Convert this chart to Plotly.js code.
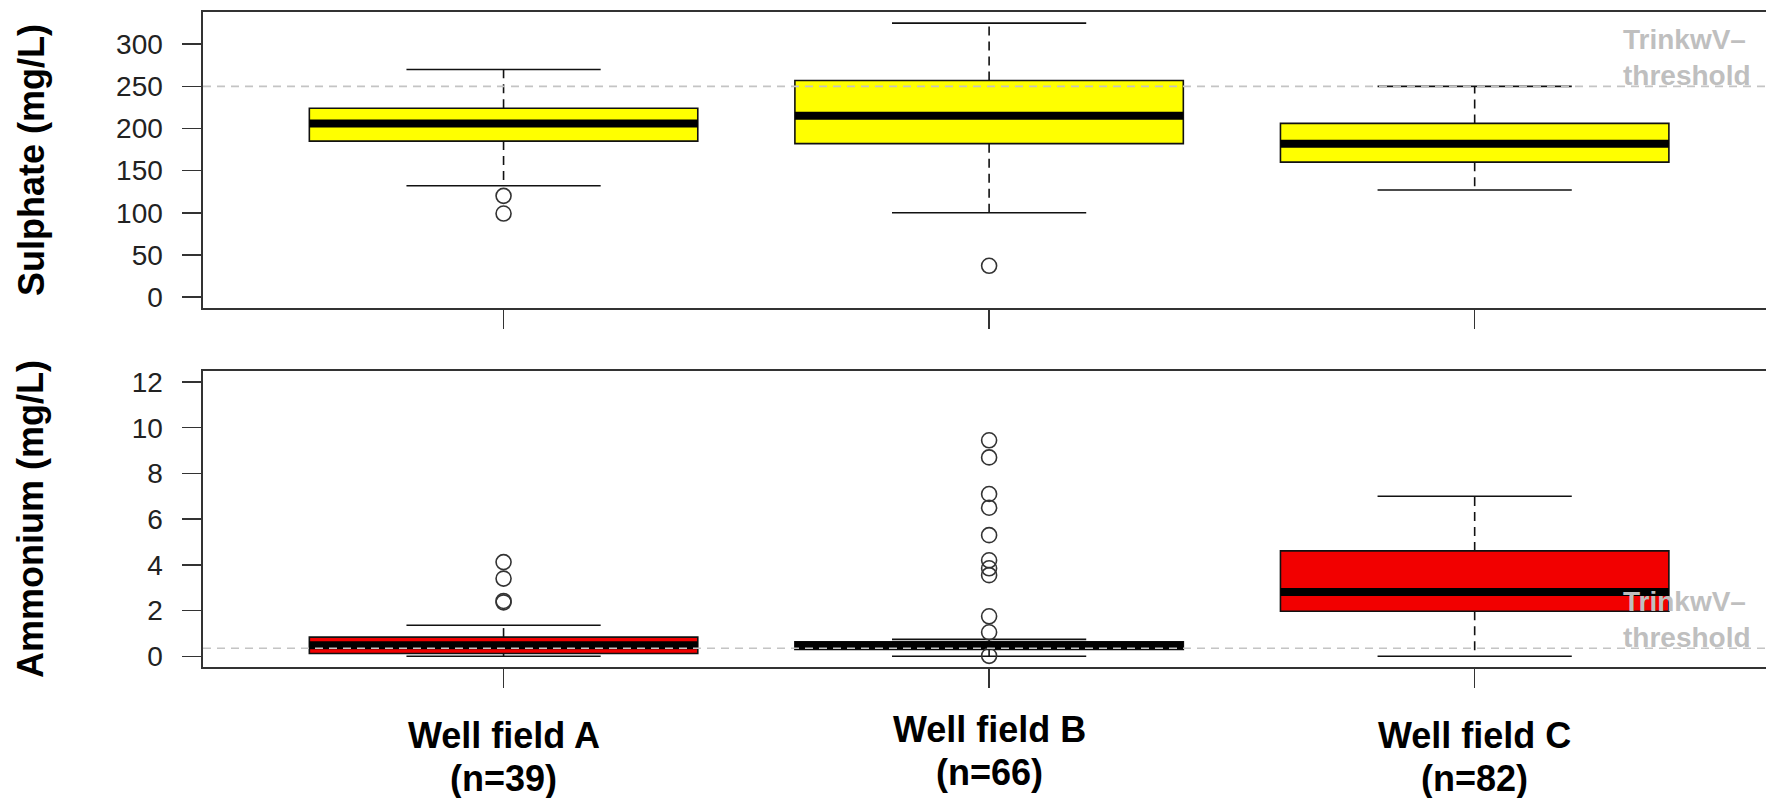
<!DOCTYPE html>
<html>
<head>
<meta charset="utf-8">
<script src="https://cdn.plot.ly/plotly-3.0.1.min.js"></script>
<style>
  html, body { margin: 0; padding: 0; background: #fff; }
  #chart { width: 1766px; height: 798px; }
</style>
</head>
<body>
<div id="chart"></div>
<script>
// ---------- data ----------
const categories = ["Well field A", "Well field B", "Well field C"];
const counts = [39, 66, 82];
const positions = [1, 2, 3];

// Sulphate (mg/L)
const so4Q1 = [185, 182, 160];
const so4Median = [206, 215, 182];
const so4Q3 = [224, 257, 206];
const so4Lower = [132, 100, 127];
const so4Upper = [270, 325, 250];
const so4Outliers = [[120, 99], [37], []];
const so4Threshold = 250;

// Ammonium (mg/L)
const nh4Q1 = [0.12, 0.30, 1.97];
const nh4Median = [0.48, 0.47, 2.81];
const nh4Q3 = [0.84, 0.63, 4.61];
const nh4Lower = [0.0, 0.0, 0.0];
const nh4Upper = [1.36, 0.74, 7.0];
const nh4Outliers = [[4.12, 3.40, 2.42, 2.36], [9.45, 8.70, 7.10, 6.50, 5.30, 4.20, 3.85, 3.55, 1.75, 1.05, 0.02], []];
const nh4Threshold = 0.35;

const yTicksSO4 = [0, 50, 100, 150, 200, 250, 300];
const yTicksNH4 = [0, 2, 4, 6, 8, 10, 12];

// ---------- styles ----------
const FONT = "Liberation Sans, Arial, sans-serif";
const INK = "#222222";
const BOX_W = 0.8;
const CAP_W = 0.4;

function panelTraces(q1, med, q3, lo, hi, outl, fill, xa, ya) {
  const traces = [];
  traces.push({
    type: "box", x: positions, q1: q1, median: med, q3: q3,
    lowerfence: q1, upperfence: q3, width: BOX_W, whiskerwidth: 0,
    fillcolor: fill, line: {color: "#111111", width: 1.6},
    boxpoints: false, hoverinfo: "skip", showlegend: false,
    xaxis: xa, yaxis: ya
  });
  // dashed whiskers
  const wx = [], wy = [];
  positions.forEach((p, i) => {
    wx.push(p, p, null, p, p, null);
    wy.push(q3[i], hi[i], null, q1[i], lo[i], null);
  });
  traces.push({type: "scatter", mode: "lines", x: wx, y: wy,
    line: {color: "#111111", width: 1.6, dash: "9px,6px"},
    hoverinfo: "skip", showlegend: false, xaxis: xa, yaxis: ya});
  // caps
  const cx = [], cy = [];
  positions.forEach((p, i) => {
    cx.push(p - CAP_W / 2, p + CAP_W / 2, null, p - CAP_W / 2, p + CAP_W / 2, null);
    cy.push(hi[i], hi[i], null, lo[i], lo[i], null);
  });
  traces.push({type: "scatter", mode: "lines", x: cx, y: cy,
    line: {color: "#111111", width: 1.6},
    hoverinfo: "skip", showlegend: false, xaxis: xa, yaxis: ya});
  // thick medians
  const mx = [], my = [];
  positions.forEach((p, i) => {
    mx.push(p - BOX_W / 2, p + BOX_W / 2, null);
    my.push(med[i], med[i], null);
  });
  traces.push({type: "scatter", mode: "lines", x: mx, y: my,
    line: {color: "#000000", width: 8},
    hoverinfo: "skip", showlegend: false, xaxis: xa, yaxis: ya});
  // outliers
  const ox = [], oy = [];
  outl.forEach((arr, i) => arr.forEach(v => { ox.push(positions[i]); oy.push(v); }));
  traces.push({type: "scatter", mode: "markers", x: ox, y: oy,
    marker: {symbol: "circle-open", size: 15, color: "#333333", line: {width: 1.6, color: "#333333"}},
    hoverinfo: "skip", showlegend: false, xaxis: xa, yaxis: ya});
  return traces;
}

const data = [].concat(
  panelTraces(so4Q1, so4Median, so4Q3, so4Lower, so4Upper, so4Outliers, "#ffff00", "x", "y"),
  panelTraces(nh4Q1, nh4Median, nh4Q3, nh4Lower, nh4Upper, nh4Outliers, "#f20000", "x2", "y2")
);

const xCommon = {
  range: [0.381, 3.6], tickvals: positions, showticklabels: false,
  ticks: "outside", ticklen: 19, tickwidth: 1.6, tickcolor: "#333333",
  showline: true, mirror: true, linecolor: "#333333", linewidth: 1.6,
  showgrid: false, zeroline: false, fixedrange: true
};
const yCommon = {
  ticks: "outside", ticklen: 19, tickwidth: 1.6, tickcolor: "#333333",
  showline: true, linecolor: "#333333", linewidth: 1.6,
  showgrid: false, zeroline: false, fixedrange: true,
  tickfont: {family: FONT, size: 28, color: INK},
  ticklabelstandoff: 14
};

const annotations = [];
// y titles
annotations.push({text: "<b>Sulphate (mg/L)</b>", xref: "paper", yref: "paper",
  x: -0.110, y: 0.774, xanchor: "center", yanchor: "middle", textangle: -90,
  showarrow: false, font: {family: FONT, size: 36, color: "#000"}});
annotations.push({text: "<b>Ammonium (mg/L)</b>", xref: "paper", yref: "paper",
  x: -0.110, y: 0.226, xanchor: "center", yanchor: "middle", textangle: -90,
  showarrow: false, font: {family: FONT, size: 36, color: "#000"}});
// category labels
const labelShift = [0, 6, 0];
categories.forEach((c, i) => {
  annotations.push({text: "<b>" + c + "</b>", xref: "x2", yref: "paper",
    x: positions[i], y: 0, yshift: -68 + labelShift[i], xanchor: "center", yanchor: "middle",
    showarrow: false, font: {family: FONT, size: 36, color: "#000"}});
  annotations.push({text: "<b>(n=" + counts[i] + ")</b>", xref: "x2", yref: "paper",
    x: positions[i], y: 0, yshift: -111 + labelShift[i], xanchor: "center", yanchor: "middle",
    showarrow: false, font: {family: FONT, size: 36, color: "#000"}});
});
// threshold labels
[["y", so4Threshold], ["y2", nh4Threshold]].forEach(([ya, v]) => {
  annotations.push({text: "<b>TrinkwV–<br>threshold</b>", xref: "paper", yref: ya,
    x: 0.9072, y: v, xanchor: "left", yanchor: "bottom", align: "left", yshift: -7,
    showarrow: false, font: {family: FONT, size: 28, color: "#bfbfbf"}});
});

const shapes = [
  {type: "line", xref: "x domain", yref: "y", x0: 0, x1: 1, y0: so4Threshold, y1: so4Threshold,
   line: {color: "#c4c4c4", width: 1.6, dash: "8px,6px"}, layer: "above"},
  {type: "line", xref: "x2 domain", yref: "y2", x0: 0, x1: 1, y0: nh4Threshold, y1: nh4Threshold,
   line: {color: "#c4c4c4", width: 1.6, dash: "8px,6px"}, layer: "above"}
];

const layout = {
  width: 1766, height: 798,
  margin: {l: 203, r: 0, t: 12, b: 131, pad: 0},
  paper_bgcolor: "#ffffff", plot_bgcolor: "#ffffff",
  showlegend: false,
  xaxis: Object.assign({}, xCommon, {anchor: "y", domain: [0, 1]}),
  yaxis: Object.assign({}, yCommon, {anchor: "x", domain: [0.5481, 1], range: [-13.05, 338.2], tickvals: yTicksSO4}),
  xaxis2: Object.assign({}, xCommon, {anchor: "y2", domain: [0, 1]}),
  yaxis2: Object.assign({}, yCommon, {anchor: "x2", domain: [0, 0.4519], range: [-0.468, 12.48], tickvals: yTicksNH4}),
  annotations: annotations,
  shapes: shapes
};

Plotly.newPlot("chart", data, layout, {displayModeBar: false, staticPlot: true});
</script>
</body>
</html>
